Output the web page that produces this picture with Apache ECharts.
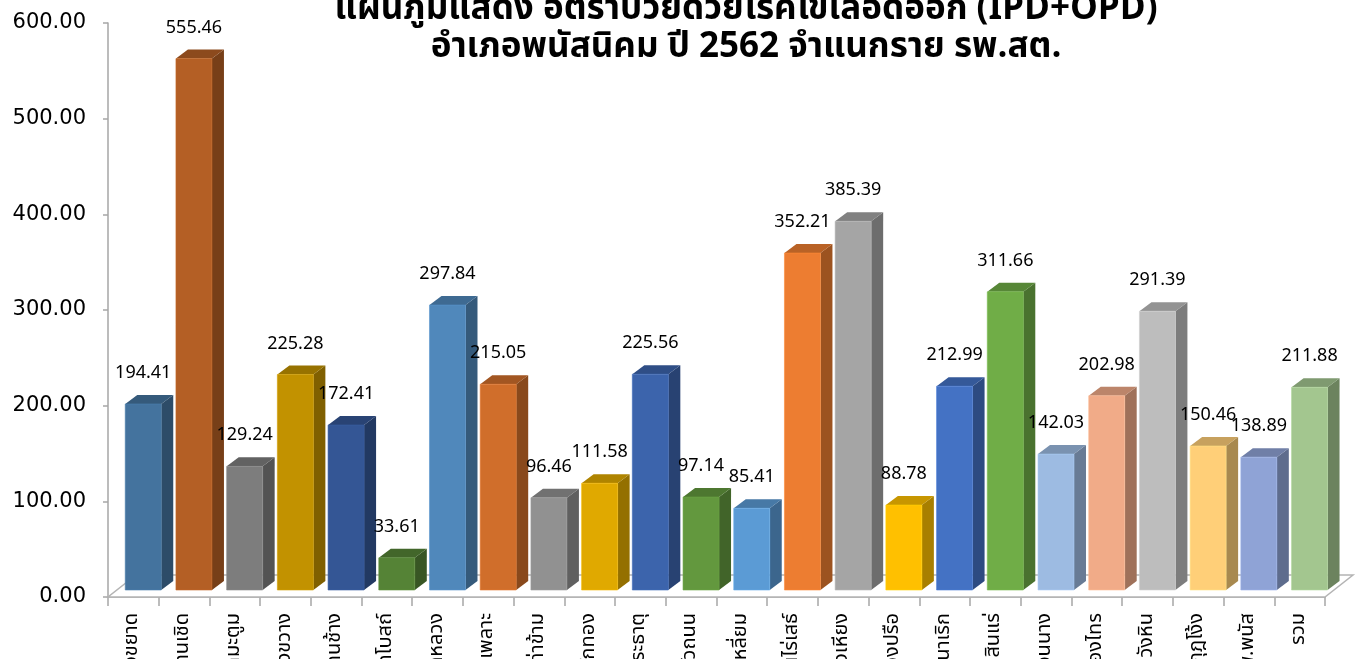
<!DOCTYPE html>
<html><head><meta charset="utf-8">
<script src="https://cdn.jsdelivr.net/npm/echarts@6/dist/echarts.min.js"></script>
<style>html,body{margin:0;padding:0;background:#fff}#c{width:1363px;height:659px}</style>
</head><body><div id="c"></div>
<script>
var titleLines = ['แผนภูมิแสดง อัตราป่วยด้วยโรคไข้เลือดออก (IPD+OPD)', 'อำเภอพนัสนิคม ปี 2562 จำแนกราย รพ.สต.'];
var categories = ['หนองขยาด','บ้านเชิด','นามะตูม','ทุ่งขวาง','บ้านช้าง','วัดโบสถ์','วัดหลวง','โคกเพลาะ','ท่าข้าม','ไร่หลักทอง','หน้าพระธาตุ','หัวถนน','สระสี่เหลี่ยม','บ้านไร่เสธ์','หนองเหียง','หนองปรือ','นาเริก','บ้านสินแร่','หมอนนาง','หนองไทร','นาวังหิน','กุฎโง้ง','รพ.พนัส','รวม'];
var values = [194.41,555.46,129.24,225.28,172.41,33.61,297.84,215.05,96.46,111.58,225.56,97.14,85.41,352.21,385.39,88.78,212.99,311.66,142.03,202.98,291.39,150.46,138.89,211.88];
var yTicks = {min:0, max:600, interval:100};

var palette = ['#44739E','#B45F25','#7D7D7D','#C29200','#345695','#558336',
               '#5088BB','#D06E2B','#919191','#E0A900','#3C64AC','#63983E',
               '#5B9BD5','#ED7D31','#A5A5A5','#FFC000','#4472C4','#70AD47',
               '#9DBBE2','#F1AB88','#BDBDBD','#FFCF78','#8FA3D6','#A3C68F'];
function shade(hex, k){
  var n=parseInt(hex.slice(1),16),r=(n>>16)&255,g=(n>>8)&255,b=n&255;
  r=Math.min(255,Math.round(r*k));g=Math.min(255,Math.round(g*k));b=Math.min(255,Math.round(b*k));
  return 'rgb('+r+','+g+','+b+')';
}
var thai = "Tahoma, 'Noto Sans Thai', 'Noto Sans Thai UI', Loma, Garuda, 'Noto Sans', sans-serif";

var chart = echarts.init(document.getElementById('c'));
var barData = values.map(function(v,i){return [i,v];});
var LIFT = 7, DX = 12, DY = -9, FD = [28,-22];

chart.setOption({
  animation:false,
  title:{text:titleLines.join('\n'), left:741, top:-12, textAlign:'center',
    textStyle:{fontFamily:thai, fontSize:35, fontWeight:'bold', color:'#000', lineHeight:38}},
  grid:{left:108, right:38, top:23, bottom:62, containLabel:false, outerBoundsMode:'none'},
  xAxis:{type:'category', data:categories,
    axisLine:{lineStyle:{color:'#A6A6A6', width:1.5}},
    axisTick:{show:true, length:9, lineStyle:{color:'#A6A6A6', width:1.5}},
    axisLabel:{rotate:90, margin:16, fontSize:20, fontFamily:thai, color:'#000', interval:0}},
  yAxis:{type:'value', min:yTicks.min, max:yTicks.max, interval:yTicks.interval,
    axisLine:{show:true, lineStyle:{color:'#A6A6A6', width:1.5}},
    axisTick:{show:true, length:5, lineStyle:{color:'#A6A6A6', width:1.5}},
    splitLine:{show:false},
    axisLabel:{margin:22, fontSize:21, fontFamily:"'DejaVu Sans', Verdana, sans-serif", color:'#000',
      formatter:function(v){return v.toFixed(2);}}},
  series:[
    {type:'custom', z:1, silent:true, data:[[0,0]],
     renderItem:function(params, api){
       var a = api.coord([0,0]), bw = api.size([1,0])[0];
       var x0 = a[0]-bw/2, x1 = x0 + bw*categories.length, y0 = a[1];
       return {type:'polygon', shape:{points:[[x0,y0],[x1,y0],[x1+FD[0],y0+FD[1]],[x0+FD[0],y0+FD[1]]]},
         style:{fill:'#fff', stroke:'#B4B4B4', lineWidth:1.5}};
     }},
    {type:'custom', z:2, silent:true, data:barData,
     renderItem:function(params, api){
       var i = api.value(0), v = api.value(1);
       var b = api.coord([i,0]), t = api.coord([i,v]);
       var bw = api.size([1,0])[0];
       var cx = b[0];
       var fl = cx - bw*0.16, fr = cx + bw*0.55;
       var yb = b[1]-LIFT, yt = t[1]-LIFT;
       var c = palette[i % palette.length];
       return {type:'group', children:[
         {type:'polygon', shape:{points:[[fr,yt],[fr+DX,yt+DY],[fr+DX,yb+DY],[fr,yb]]}, style:{fill:shade(c,0.66)}},
         {type:'polygon', shape:{points:[[fl,yt],[fl+DX,yt+DY],[fr+DX,yt+DY],[fr,yt]]}, style:{fill:shade(c,0.78)}},
         {type:'rect', shape:{x:fl, y:yt, width:fr-fl, height:yb-yt}, style:{fill:c, stroke:shade(c,1.1), lineWidth:0.6}},
         {type:'text', x:(fl+fr)/2, y:yt-31, style:{text:v.toFixed(2), fill:'#000', fontSize:18,
           fontFamily:"'Noto Sans', 'Liberation Sans', sans-serif", align:'center', verticalAlign:'middle'}}
       ]};
     }}
  ]
});
</script></body></html>
